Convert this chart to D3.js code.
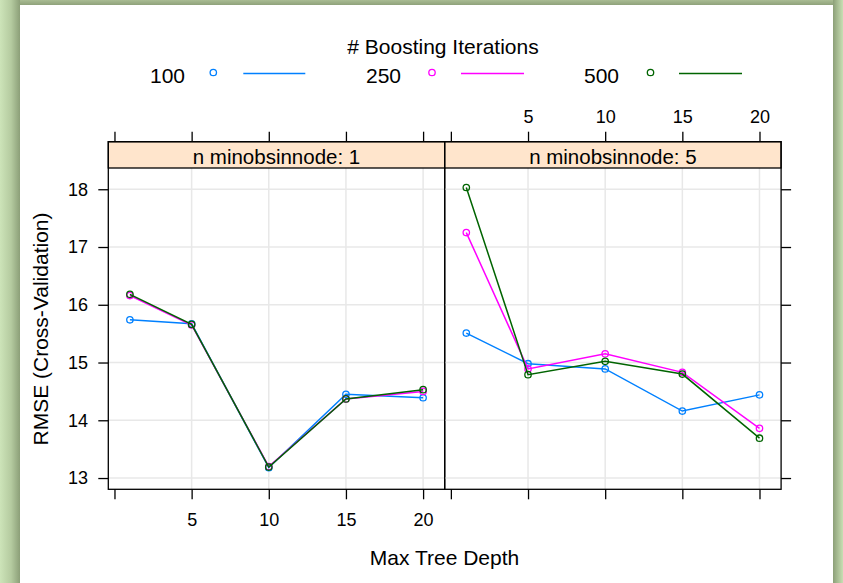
<!DOCTYPE html>
<html>
<head>
<meta charset="utf-8">
<script src="https://cdn.jsdelivr.net/npm/d3@7"></script>
<style>
  html, body { margin: 0; padding: 0; background: #fff; }
  svg { display: block; font-family: "Liberation Sans", Arial, sans-serif; }
  .axis .domain { display: none; }
  .axis line { stroke: #000; stroke-width: 1.3px; }
  .axis text { font-size: 18px; fill: #000; }
  .grid line { stroke: #e8e8e8; stroke-width: 1.5px; }
</style>
</head>
<body>
<svg id="chart" width="843" height="583"></svg>
<script>
// values
const depths = [1, 5, 10, 15, 20];
const iterations = ['100', '250', '500'];
const colors = ['#0080ff', '#ff00ff', '#006400'];
const panelNames = ['n minobsinnode: 1', 'n minobsinnode: 5'];

// minobsinnode = 1
const node1Iter100 = [15.74, 15.67, 13.18, 14.45, 14.39];
const node1Iter250 = [16.16, 15.65, 13.20, 14.37, 14.50];
const node1Iter500 = [16.18, 15.66, 13.19, 14.37, 14.53];
// minobsinnode = 5
const node5Iter100 = [15.51, 14.98, 14.89, 14.16, 14.44];
const node5Iter250 = [17.25, 14.89, 15.15, 14.83, 13.86];
const node5Iter500 = [18.03, 14.79, 15.02, 14.80, 13.69];

const xTicks = [0, 5, 10, 15, 20];
const yTicks = [13, 14, 15, 16, 17, 18];

const panels = [
  [node1Iter100, node1Iter250, node1Iter500],
  [node5Iter100, node5Iter250, node5Iter500]
];

const svg = d3.select('#chart');

// green frame round the white page
const defs = svg.append('defs');
const gradL = defs.append('linearGradient').attr('id', 'gl').attr('x1', 0).attr('x2', 1).attr('y1', 0).attr('y2', 0);
gradL.append('stop').attr('offset', 0).attr('stop-color', '#cde4b9');
gradL.append('stop').attr('offset', 0.55).attr('stop-color', '#b5cba0');
gradL.append('stop').attr('offset', 1).attr('stop-color', '#8c9f78');
const gradR = defs.append('linearGradient').attr('id', 'gr').attr('x1', 0).attr('x2', 1).attr('y1', 0).attr('y2', 0);
gradR.append('stop').attr('offset', 0).attr('stop-color', '#8c9f78');
gradR.append('stop').attr('offset', 1).attr('stop-color', '#c8dfb3');
const gradT = defs.append('linearGradient').attr('id', 'gt').attr('x1', 0).attr('x2', 0).attr('y1', 0).attr('y2', 1);
gradT.append('stop').attr('offset', 0).attr('stop-color', '#a9bc93');
gradT.append('stop').attr('offset', 1).attr('stop-color', '#8fa27b');

svg.append('rect').attr('width', 843).attr('height', 583).attr('fill', '#fff');
svg.append('rect').attr('x', 20).attr('y', 0).attr('width', 813).attr('height', 5).attr('fill', 'url(#gt)');
svg.append('rect').attr('x', 0).attr('y', 0).attr('width', 20).attr('height', 583).attr('fill', 'url(#gl)');
svg.append('rect').attr('x', 833).attr('y', 0).attr('width', 10).attr('height', 583).attr('fill', 'url(#gr)');

// layout
const panelW = 336.4;
const panelX = [108.3, 108.3 + panelW];
const stripTop = 141.7;
const stripBottom = 168;
const panelBottom = 489.3;
const tickLen = 10;

const y = d3.scaleLinear().domain([12.805, 18.368]).range([panelBottom, stripBottom]);

panels.forEach((series, p) => {
  const x0 = panelX[p];
  const x = d3.scaleLinear().domain([-0.4, 21.4]).range([x0, x0 + panelW]);
  const g = svg.append('g');

  // grid
  const grid = g.append('g').attr('class', 'grid');
  grid.selectAll('.gy').data(yTicks).join('line')
    .attr('x1', x0).attr('x2', x0 + panelW)
    .attr('y1', d => y(d)).attr('y2', d => y(d));
  grid.selectAll('.gx').data(xTicks.filter(d => d > 0)).join('line')
    .attr('x1', d => x(d)).attr('x2', d => x(d))
    .attr('y1', stripBottom).attr('y2', panelBottom);

  // series
  const line = d3.line().x((d, i) => x(depths[i])).y(d => y(d));
  series.forEach((vals, s) => {
    g.append('path')
      .attr('d', line(vals))
      .attr('fill', 'none')
      .attr('stroke', colors[s])
      .attr('stroke-width', 1.5);
    g.selectAll(null).data(vals).join('circle')
      .attr('cx', (d, i) => x(depths[i]))
      .attr('cy', d => y(d))
      .attr('r', 3.2)
      .attr('fill', 'none')
      .attr('stroke', colors[s])
      .attr('stroke-width', 1.3);
  });

  // strip
  g.append('rect')
    .attr('x', x0).attr('y', stripTop)
    .attr('width', panelW).attr('height', stripBottom - stripTop)
    .attr('fill', '#ffe5cc').attr('stroke', '#000').attr('stroke-width', 1.3);
  g.append('text')
    .attr('x', x0 + panelW / 2).attr('y', stripBottom - 4)
    .attr('text-anchor', 'middle')
    .attr('font-size', 20.5)
    .text(panelNames[p]);

  // panel border
  g.append('rect')
    .attr('x', x0).attr('y', stripTop)
    .attr('width', panelW).attr('height', panelBottom - stripTop)
    .attr('fill', 'none').attr('stroke', '#000').attr('stroke-width', 1.3);

  // x axes: labels at bottom on first panel, at top on second
  const fmt = d => (d === 0 ? '' : d);
  const bottom = d3.axisBottom(x).tickValues(xTicks).tickSize(tickLen).tickPadding(13.9)
    .tickFormat(p === 0 ? fmt : () => '');
  const top = d3.axisTop(x).tickValues(xTicks).tickSize(tickLen).tickPadding(9)
    .tickFormat(p === 1 ? fmt : () => '');
  g.append('g').attr('class', 'axis').attr('transform', `translate(0,${panelBottom})`).call(bottom);
  g.append('g').attr('class', 'axis').attr('transform', `translate(0,${stripTop})`).call(top);

  // y axes: labelled left of first panel, bare ticks right of second
  if (p === 0) {
    g.append('g').attr('class', 'axis').attr('transform', `translate(${x0},0)`)
      .call(d3.axisLeft(y).tickValues(yTicks).tickSize(tickLen).tickPadding(10.3).tickFormat(d3.format('d')));
  } else {
    g.append('g').attr('class', 'axis').attr('transform', `translate(${x0 + panelW},0)`)
      .call(d3.axisRight(y).tickValues(yTicks).tickSize(tickLen).tickFormat(() => ''));
  }
});

// axis titles
svg.append('text')
  .attr('x', 444.5).attr('y', 565)
  .attr('text-anchor', 'middle').attr('font-size', 21)
  .text('Max Tree Depth');
svg.append('text')
  .attr('transform', 'translate(48,329) rotate(-90)')
  .attr('text-anchor', 'middle').attr('font-size', 21)
  .text('RMSE (Cross-Validation)');

// legend
svg.append('text')
  .attr('x', 443).attr('y', 54)
  .attr('text-anchor', 'middle').attr('font-size', 21)
  .text('# Boosting Iterations');

const legendTextX = [150, 366, 584];
const legendPointX = [213.3, 432, 650.5];
const legendLineX = [[243.3, 305.3], [461, 524], [679, 742]];
const legend = svg.append('g');
iterations.forEach((lab, i) => {
  legend.append('text')
    .attr('x', legendTextX[i]).attr('y', 82.5)
    .attr('font-size', 21)
    .text(lab);
  legend.append('circle')
    .attr('cx', legendPointX[i]).attr('cy', 72.5).attr('r', 3.2)
    .attr('fill', 'none').attr('stroke', colors[i]).attr('stroke-width', 1.3);
  legend.append('line')
    .attr('x1', legendLineX[i][0]).attr('x2', legendLineX[i][1])
    .attr('y1', 73.5).attr('y2', 73.5)
    .attr('stroke', colors[i]).attr('stroke-width', 1.5);
});
</script>
</body>
</html>
